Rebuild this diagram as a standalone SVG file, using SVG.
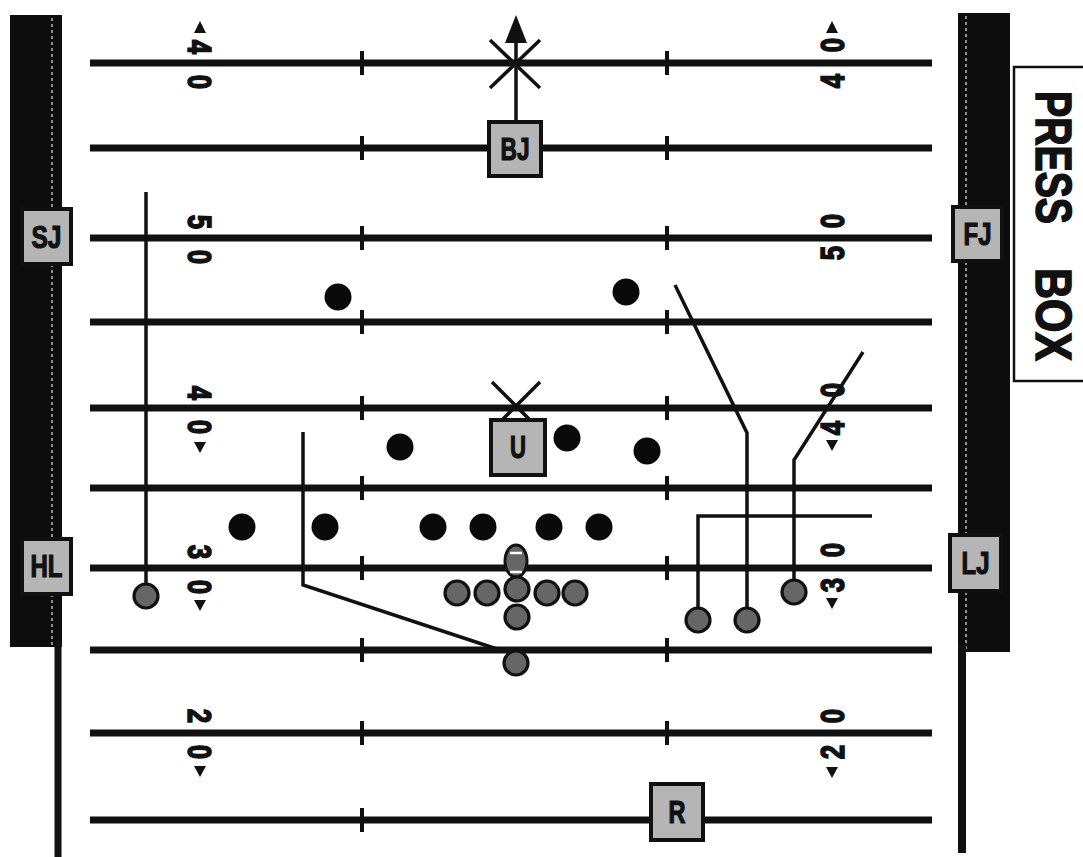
<svg xmlns="http://www.w3.org/2000/svg" width="1083" height="857" viewBox="0 0 1083 857">
<style>
.yl{stroke:#111;stroke-width:7;fill:none}
.hash{stroke:#111;stroke-width:4}
.num{font-family:"Liberation Sans",Arial,sans-serif;font-weight:bold;font-size:33px;fill:#111;stroke:#111;stroke-width:1.6;text-anchor:middle;dominant-baseline:central}
.tri{fill:#111}
.route{stroke:#111;stroke-width:3.5;fill:none;stroke-linejoin:miter}
.def{fill:#0a0a0a}
.off{fill:#666;stroke:#111;stroke-width:3.2}
.ofc rect{fill:#b5b5b5;stroke:#111;stroke-width:4}
.ofc text{font-family:"Liberation Sans",Arial,sans-serif;font-weight:bold;font-size:31px;fill:#111;stroke:#111;stroke-width:1.2;text-anchor:middle}
.press{font-family:"Liberation Sans",Arial,sans-serif;font-weight:bold;font-size:50px;fill:#111;stroke:#111;stroke-width:1.6}
</style>
<rect width="1083" height="857" fill="#fff"/>

<g id="sidelines">
  <rect x="10" y="15" width="52" height="632" fill="#0d0d0d"/>
  <line x1="52" y1="18" x2="52" y2="645" stroke="#bbb" stroke-width="1.5" stroke-dasharray="3 3"/>
  <line x1="58" y1="640" x2="58" y2="857" stroke="#111" stroke-width="7"/>
  <rect x="958" y="13" width="52" height="639" fill="#0d0d0d"/>
  <line x1="966" y1="16" x2="966" y2="650" stroke="#bbb" stroke-width="1.5" stroke-dasharray="3 3"/>
  <line x1="962" y1="645" x2="962" y2="853" stroke="#111" stroke-width="8"/>
</g>

<g id="press-box">
  <path d="M1083,67 H1014 V381 H1083" fill="none" stroke="#111" stroke-width="2.5"/>
  <text class="press" transform="translate(1036,91) rotate(90)" textLength="133" lengthAdjust="spacingAndGlyphs">PRESS</text>
  <text class="press" transform="translate(1036,268) rotate(90)" textLength="93" lengthAdjust="spacingAndGlyphs">BOX</text>
</g>

<g id="yard-lines">
  <line class="yl" x1="90" y1="63" x2="932" y2="63"/>
  <line class="yl" x1="90" y1="148" x2="932" y2="148"/>
  <line class="yl" x1="90" y1="238" x2="932" y2="238"/>
  <line class="yl" x1="90" y1="322" x2="932" y2="322"/>
  <line class="yl" x1="90" y1="408" x2="932" y2="408"/>
  <line class="yl" x1="90" y1="488" x2="932" y2="488"/>
  <line class="yl" x1="90" y1="568" x2="932" y2="568"/>
  <line class="yl" x1="90" y1="650" x2="932" y2="650"/>
  <line class="yl" x1="90" y1="733" x2="932" y2="733"/>
  <line class="yl" x1="90" y1="820" x2="932" y2="820"/>
</g>

<g id="hash-marks">
  <line class="hash" x1="362" y1="51" x2="362" y2="75"/><line class="hash" x1="667" y1="51" x2="667" y2="75"/>
  <line class="hash" x1="362" y1="136" x2="362" y2="160"/><line class="hash" x1="667" y1="136" x2="667" y2="160"/>
  <line class="hash" x1="362" y1="226" x2="362" y2="250"/><line class="hash" x1="667" y1="226" x2="667" y2="250"/>
  <line class="hash" x1="362" y1="310" x2="362" y2="334"/><line class="hash" x1="667" y1="310" x2="667" y2="334"/>
  <line class="hash" x1="362" y1="396" x2="362" y2="420"/><line class="hash" x1="667" y1="396" x2="667" y2="420"/>
  <line class="hash" x1="362" y1="476" x2="362" y2="500"/><line class="hash" x1="667" y1="476" x2="667" y2="500"/>
  <line class="hash" x1="362" y1="556" x2="362" y2="580"/><line class="hash" x1="667" y1="556" x2="667" y2="580"/>
  <line class="hash" x1="362" y1="638" x2="362" y2="662"/><line class="hash" x1="667" y1="638" x2="667" y2="662"/>
  <line class="hash" x1="362" y1="721" x2="362" y2="745"/><line class="hash" x1="667" y1="721" x2="667" y2="745"/>
  <line class="hash" x1="362" y1="808" x2="362" y2="832"/><line class="hash" x1="667" y1="808" x2="667" y2="832"/>
</g>

<g id="yard-numbers">
  <!-- left side -->
  <polygon class="tri" points="200,21 194,33 206,33"/>
  <text class="num" transform="translate(200,47) rotate(90) scale(0.78,1)">4</text>
  <text class="num" transform="translate(200,82) rotate(90) scale(0.78,1)">0</text>
  <text class="num" transform="translate(200,222) rotate(90) scale(0.78,1)">5</text>
  <text class="num" transform="translate(200,257) rotate(90) scale(0.78,1)">0</text>
  <text class="num" transform="translate(200,393) rotate(90) scale(0.78,1)">4</text>
  <text class="num" transform="translate(200,427) rotate(90) scale(0.78,1)">0</text>
  <polygon class="tri" points="194,442 206,442 200,453"/>
  <text class="num" transform="translate(200,552) rotate(90) scale(0.78,1)">3</text>
  <text class="num" transform="translate(200,587) rotate(90) scale(0.78,1)">0</text>
  <polygon class="tri" points="194,600 206,600 200,611"/>
  <text class="num" transform="translate(200,716) rotate(90) scale(0.78,1)">2</text>
  <text class="num" transform="translate(200,752) rotate(90) scale(0.78,1)">0</text>
  <polygon class="tri" points="194,766 206,766 200,777"/>
  <!-- right side -->
  <polygon class="tri" points="832,21 826,33 838,33"/>
  <text class="num" transform="translate(832,45) rotate(-90) scale(0.78,1)">0</text>
  <text class="num" transform="translate(832,81) rotate(-90) scale(0.78,1)">4</text>
  <text class="num" transform="translate(832,221) rotate(-90) scale(0.78,1)">0</text>
  <text class="num" transform="translate(832,253) rotate(-90) scale(0.78,1)">5</text>
  <text class="num" transform="translate(832,390) rotate(-90) scale(0.78,1)">0</text>
  <text class="num" transform="translate(832,428) rotate(-90) scale(0.78,1)">4</text>
  <polygon class="tri" points="826,440 838,440 832,451"/>
  <text class="num" transform="translate(832,550) rotate(-90) scale(0.78,1)">0</text>
  <text class="num" transform="translate(832,585) rotate(-90) scale(0.78,1)">3</text>
  <polygon class="tri" points="826,598 838,598 832,609"/>
  <text class="num" transform="translate(832,716) rotate(-90) scale(0.78,1)">0</text>
  <text class="num" transform="translate(832,752) rotate(-90) scale(0.78,1)">2</text>
  <polygon class="tri" points="826,767 838,767 832,778"/>
</g>

<g id="connectors">
  <polyline class="route" points="146,596 146,192"/>
  <polyline class="route" points="500,650 303,585 303,432"/>
  <polyline class="route" points="698,620 698,516 872,516"/>
  <polyline class="route" points="747,620 747,433 675,285"/>
  <polyline class="route" points="794,592 794,460 863,352"/>
  <line class="route" x1="516" y1="120" x2="516" y2="38"/>
  <polygon class="tri" points="516,15 505,43 527,43"/>
  <line class="route" x1="490" y1="40" x2="540" y2="88"/>
  <line class="route" x1="540" y1="40" x2="490" y2="88"/>
  <line class="route" x1="492" y1="382" x2="530" y2="420"/>
  <line class="route" x1="540" y1="382" x2="502" y2="420"/>
</g>

<g id="defense">
  <circle class="def" cx="338" cy="297" r="13.5"/>
  <circle class="def" cx="626" cy="292" r="13.5"/>
  <circle class="def" cx="400" cy="447" r="13.5"/>
  <circle class="def" cx="567" cy="438" r="13.5"/>
  <circle class="def" cx="647" cy="451" r="13.5"/>
  <circle class="def" cx="242" cy="527" r="13.5"/>
  <circle class="def" cx="325" cy="527" r="13.5"/>
  <circle class="def" cx="433" cy="527" r="13.5"/>
  <circle class="def" cx="483" cy="527" r="13.5"/>
  <circle class="def" cx="549" cy="527" r="13.5"/>
  <circle class="def" cx="599" cy="527" r="13.5"/>
</g>

<g id="offense">
  <g id="ball">
    <ellipse cx="516" cy="561" rx="11" ry="16" fill="#666" stroke="#111" stroke-width="3"/>
    <line x1="510" y1="553" x2="522" y2="553" stroke="#fff" stroke-width="2.5"/>
    <line x1="510" y1="572" x2="522" y2="572" stroke="#fff" stroke-width="2.5"/>
  </g>
  <circle class="off" cx="457" cy="593" r="12"/>
  <circle class="off" cx="487" cy="593" r="12"/>
  <circle class="off" cx="547" cy="593" r="12"/>
  <circle class="off" cx="575" cy="593" r="12"/>
  <circle class="off" cx="517" cy="589" r="12"/>
  <circle class="off" cx="517" cy="617" r="12"/>
  <circle class="off" cx="516" cy="663" r="12"/>
  <circle class="off" cx="146" cy="596" r="12"/>
  <circle class="off" cx="698" cy="620" r="12"/>
  <circle class="off" cx="747" cy="620" r="12"/>
  <circle class="off" cx="794" cy="592" r="12"/>
</g>

<g id="official-SJ" class="ofc"><rect x="22" y="209" width="49" height="55"/><text x="46.5" y="248" textLength="30" lengthAdjust="spacingAndGlyphs">SJ</text></g>
<g id="official-FJ" class="ofc"><rect x="953" y="207" width="49" height="54"/><text x="977.5" y="245" textLength="28" lengthAdjust="spacingAndGlyphs">FJ</text></g>
<g id="official-HL" class="ofc"><rect x="22" y="539" width="49" height="55"/><text x="46.5" y="577" textLength="32" lengthAdjust="spacingAndGlyphs">HL</text></g>
<g id="official-LJ" class="ofc"><rect x="950" y="535" width="51" height="56"/><text x="975.5" y="574" textLength="28" lengthAdjust="spacingAndGlyphs">LJ</text></g>
<g id="official-BJ" class="ofc"><rect x="489" y="122" width="52" height="54"/><text x="515" y="160" textLength="29" lengthAdjust="spacingAndGlyphs">BJ</text></g>
<g id="official-U" class="ofc"><rect x="491" y="420" width="54" height="55"/><text x="518" y="458" textLength="16" lengthAdjust="spacingAndGlyphs">U</text></g>
<g id="official-R" class="ofc"><rect x="651" y="784" width="52" height="56"/><text x="677" y="823" textLength="17" lengthAdjust="spacingAndGlyphs">R</text></g>
</svg>
